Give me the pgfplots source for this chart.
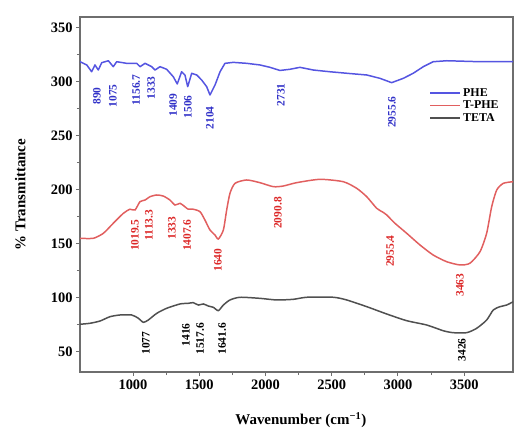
\documentclass[border=0pt]{standalone}
\usepackage{fontspec}
\setmainfont{Liberation Serif}
\usepackage{pgfplots}
\pgfplotsset{compat=1.18}
\definecolor{pheblue}{RGB}{85,85,225}
\definecolor{phered}{RGB}{225,95,95}
\definecolor{tetagray}{RGB}{80,80,80}
\definecolor{axgray}{RGB}{110,110,110}
\definecolor{lblblue}{RGB}{50,50,200}
\definecolor{lblred}{RGB}{220,40,40}
\begin{document}
\begin{tikzpicture}
\begin{axis}[
 width=433bp, height=355bp, scale only axis,
 xmin=600, xmax=3868, ymin=31.3, ymax=360,
 xtick={1000,1500,...,3500}, ytick={50,100,...,350},
 minor x tick num=1, minor y tick num=1,
 tick align=outside, tick pos=left,
 major tick length=4bp, minor tick length=3bp,
 axis line style={axgray, line width=1.3pt},
 every tick/.style={axgray, line width=1pt},
 /pgf/number format/assume math mode=true,
 /pgf/number format/set thousands separator={},
 ticklabel style={font=\fontsize{14.5}{16}\selectfont\bfseries},
 xlabel={Wavenumber (cm\textsuperscript{−1})},
 ylabel={\% Transmittance},
 every axis x label/.style={at={(axis description cs:0.51,-0.135)}, anchor=center,
   font=\fontsize{15}{17}\selectfont\bfseries},
 every axis y label/.style={at={(axis description cs:-0.138,0.5)}, rotate=90, anchor=center,
   font=\fontsize{15}{17}\selectfont\bfseries},
 legend style={draw=none, fill=none, at={(0.80,0.81)}, anchor=north west,
   font=\fontsize{12}{13}\selectfont\bfseries, row sep=-1pt},
 legend image code/.code={\draw[#1, line width=1.6pt] plot coordinates {(0bp,0bp) (30bp,0bp)};},
 legend cell align=left,
]
\coordinate (sw) at (rel axis cs:0,0);
% PHE
\addplot[pheblue, line width=1.5pt, line join=round] coordinates {
(600,318.6)(651,315.6)(688,309.3)(713,315.6)(738,310.9)(764,317.7)(814,319.5)
(851,314)(877,318.6)(952,317.1)(1028,317.1)(1053,314)(1091,317.1)(1141,314)
(1166,310.9)(1204,314)(1254,311.6)(1304,304.7)(1334,298)(1367,309.3)(1392,306.3)
(1413,295.5)(1443,307.9)(1481,306.3)(1518,301.7)(1556,295.5)(1581,287.8)
(1619,297)(1657,309.3)(1694,317.1)(1757,318)(1858,317.1)(1958,315.6)(2034,313.4)
(2109,310.5)(2185,311.6)(2260,313.4)(2361,310.9)(2487,309.3)(2613,307.9)
(2764,306.3)(2864,303.2)(2952,299.2)(3040,303.2)(3115,307.9)(3191,314)
(3266,318.6)(3368,319.5)(3619,318.6)(3870,318.6)};
\addlegendentry{PHE}
% T-PHE
\addplot[phered, line width=1.5pt, smooth, tension=0.4] coordinates {
(600,155.1)(700,155.1)(776,159.7)(851,169)(927,178.2)(977,182)(1015,181.3)
(1053,189)(1091,190.5)(1128,193.6)(1179,195.2)(1229,194.2)(1279,190.5)
(1317,185.9)(1355,187.5)(1392,184.3)(1417,182)(1455,182)(1506,179.7)(1543,172)
(1581,162.8)(1619,158.1)(1644,154.4)(1682,162.8)(1707,181.3)(1732,196.8)
(1770,206)(1858,209.1)(1958,206.6)(2059,202.9)(2134,203.5)(2235,206.6)
(2411,209.7)(2587,207.5)(2688,201.4)(2764,193.6)(2839,182.9)(2890,179)(2915,176.7)
(2977,169)(3066,159.7)(3166,148.9)(3266,139.6)(3368,133.4)(3468,130.4)
(3543,132)(3619,142.7)(3669,159.7)(3707,184.3)(3745,199.8)(3795,206)(3870,207.5)};
\addlegendentry{T-PHE}
% TETA
\addplot[tetagray, line width=1.5pt, smooth, tension=0.4] coordinates {
(600,75.5)(675,76.4)(751,78.5)(826,82.5)(902,84.1)(990,84.1)(1040,81.1)
(1078,77.3)(1115,79.4)(1179,85.6)(1254,90.3)(1355,94.3)(1417,94.9)(1455,95.5)
(1493,93.3)(1531,94.3)(1568,92.4)(1606,91.2)(1644,88.1)(1682,93.3)(1732,98)
(1808,100.5)(1958,99.5)(2084,98)(2210,98.6)(2311,100.5)(2512,100.5)(2613,98)
(2764,91.8)(2915,85)(3066,78.8)(3217,74.8)(3342,69.5)(3417,67.7)(3518,67.7)
(3593,71.7)(3669,79.4)(3719,88.7)(3770,91.8)(3820,93.3)(3870,96.4)};
\addlegendentry{TETA}
% labels
\tikzset{lbl/.style={rotate=90, font=\fontsize{11.5}{12}\selectfont\bfseries, inner sep=0pt}}
\node[lbl, text=lblblue] at (axis cs:728,286.8) {890};
\node[lbl, text=lblblue] at (axis cs:849,287) {1075};
\node[lbl, text=lblblue] at (axis cs:1023,292.4) {1156.7};
\node[lbl, text=lblblue] at (axis cs:1136,294.3) {1333};
\node[lbl, text=lblblue] at (axis cs:1302,278.5) {1409};
\node[lbl, text=lblblue] at (axis cs:1415,276.7) {1506};
\node[lbl, text=lblblue] at (axis cs:1581,266.5) {2104};
\node[lbl, text=lblblue] at (axis cs:2117,287.8) {2731};
\node[lbl, text=lblblue] at (axis cs:2955,272) {2955.6};
\node[lbl, text=lblred] at (axis cs:1015,158) {1019.5};
\node[lbl, text=lblred] at (axis cs:1121,167.4) {1113.3};
\node[lbl, text=lblred] at (axis cs:1294,164.6) {1333};
\node[lbl, text=lblred] at (axis cs:1408,158) {1407.6};
\node[lbl, text=lblred] at (axis cs:1641,135) {1640};
\node[lbl, text=lblred] at (axis cs:2094,178.5) {2090.8};
\node[lbl, text=lblred] at (axis cs:2940,143.3) {2955.4};
\node[lbl, text=lblred] at (axis cs:3468,111.8) {3463};
\node[lbl, text=black] at (axis cs:1098,58) {1077};
\node[lbl, text=black] at (axis cs:1400,65.6) {1416};
\node[lbl, text=black] at (axis cs:1506,62) {1517.6};
\node[lbl, text=black] at (axis cs:1672,62) {1641.6};
\node[lbl, text=black] at (axis cs:3483,51.7) {3426};
\end{axis}
\pgfresetboundingbox
\path[use as bounding box] (sw) ++(-80bp,-60bp) rectangle ++(515bp,432bp);
\end{tikzpicture}
\end{document}
